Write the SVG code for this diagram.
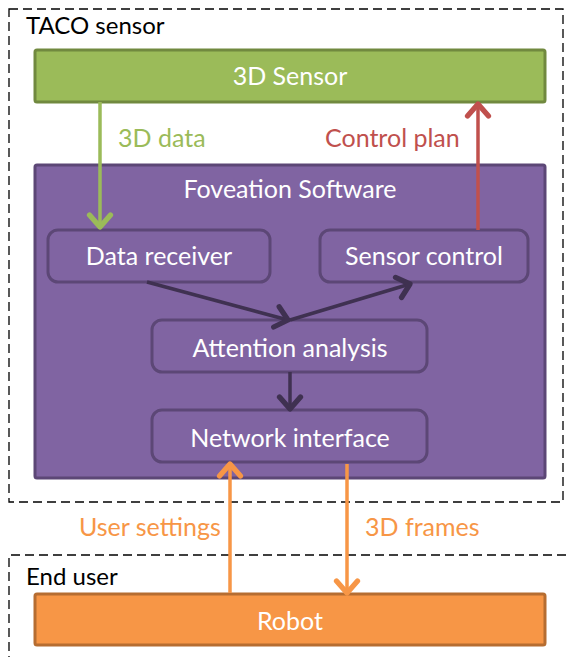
<svg xmlns="http://www.w3.org/2000/svg" width="566" height="657" viewBox="0 0 566 657">
<style>
text{font-family:Lato,"Open Sans","Liberation Sans",sans-serif;font-size:25px}
.w{fill:#fff;text-anchor:middle}
.dash{fill:none;stroke:#000;stroke-width:1.3;stroke-dasharray:9 5}
.inner{fill:#8064A2;stroke:#5C4776;stroke-width:3}
.ln{fill:none;stroke-width:3.5}
</style>
<defs>
<marker id="ag" markerUnits="userSpaceOnUse" markerWidth="30" markerHeight="30" refX="10" refY="10" viewBox="0 0 20 20" orient="auto"><path d="M2,3 L10,10 L2,17" fill="none" stroke="#9BBB59" stroke-width="3.5" stroke-linecap="round" stroke-linejoin="round"/></marker>
<marker id="ar" markerUnits="userSpaceOnUse" markerWidth="30" markerHeight="30" refX="10" refY="10" viewBox="0 0 20 20" orient="auto"><path d="M2,3 L10,10 L2,17" fill="none" stroke="#C0504D" stroke-width="3.5" stroke-linecap="round" stroke-linejoin="round"/></marker>
<marker id="ad" markerUnits="userSpaceOnUse" markerWidth="30" markerHeight="30" refX="10" refY="10" viewBox="0 0 20 20" orient="auto"><path d="M2,3 L10,10 L2,17" fill="none" stroke="#3F3151" stroke-width="3.5" stroke-linecap="round" stroke-linejoin="round"/></marker>
<marker id="ao" markerUnits="userSpaceOnUse" markerWidth="30" markerHeight="30" refX="10" refY="10" viewBox="0 0 20 20" orient="auto"><path d="M2,3 L10,10 L2,17" fill="none" stroke="#F79646" stroke-width="3.5" stroke-linecap="round" stroke-linejoin="round"/></marker>
</defs>
<g id="taco-sensor">
<rect class="dash" x="9" y="9" width="554" height="493"/>
<text x="26" y="34" fill="#000" style="font-size:24px">TACO sensor</text>
</g>
<g id="end-user">
<path class="dash" d="M566,555 H9 V657"/>
<text x="26" y="585" fill="#000" style="font-size:24px">End user</text>
</g>
<g id="sensor3d">
<rect x="35" y="50" width="510" height="52" rx="2" fill="#9BBB59" stroke="#71893F" stroke-width="3"/>
<text class="w" x="290" y="85">3D Sensor</text>
</g>
<g id="foveation">
<rect class="inner" x="35" y="165" width="510" height="313" rx="2"/>
<text class="w" x="290" y="198">Foveation Software</text>
</g>
<g id="data-receiver">
<rect class="inner" x="48" y="230" width="222" height="52" rx="10"/>
<text class="w" x="159" y="265">Data receiver</text>
</g>
<g id="sensor-control">
<rect class="inner" x="320" y="230" width="208" height="52" rx="10"/>
<text class="w" x="424" y="265">Sensor control</text>
</g>
<g id="attention">
<rect class="inner" x="152" y="320" width="275" height="52" rx="10"/>
<text class="w" x="290" y="357">Attention analysis</text>
</g>
<g id="network">
<rect class="inner" x="152" y="410" width="275" height="52" rx="10"/>
<text class="w" x="290" y="447">Network interface</text>
</g>
<g id="robot">
<rect x="35" y="594" width="510" height="51" rx="2" fill="#F79646" stroke="#B66D31" stroke-width="3"/>
<text class="w" x="290" y="630">Robot</text>
</g>
<g id="connectors">
<line class="ln" x1="100" y1="102" x2="100" y2="227" stroke="#9BBB59" marker-end="url(#ag)"/>
<text x="118" y="147" fill="#9BBB59">3D data</text>
<line class="ln" x1="478" y1="230" x2="478" y2="104" stroke="#C0504D" marker-end="url(#ar)"/>
<text x="325" y="147" fill="#C0504D">Control plan</text>
<line class="ln" x1="147" y1="282" x2="288" y2="320" stroke="#3F3151" marker-end="url(#ad)"/>
<line class="ln" x1="290" y1="320" x2="410" y2="284" stroke="#3F3151" marker-end="url(#ad)"/>
<line class="ln" x1="290" y1="372" x2="290" y2="409" stroke="#3F3151" marker-end="url(#ad)"/>
<line class="ln" x1="230" y1="593" x2="230" y2="464" stroke="#F79646" marker-end="url(#ao)"/>
<line class="ln" x1="347" y1="464" x2="347" y2="593" stroke="#F79646" marker-end="url(#ao)"/>
<text x="79" y="536" fill="#F79646">User settings</text>
<text x="365" y="536" fill="#F79646">3D frames</text>
</g>
</svg>
